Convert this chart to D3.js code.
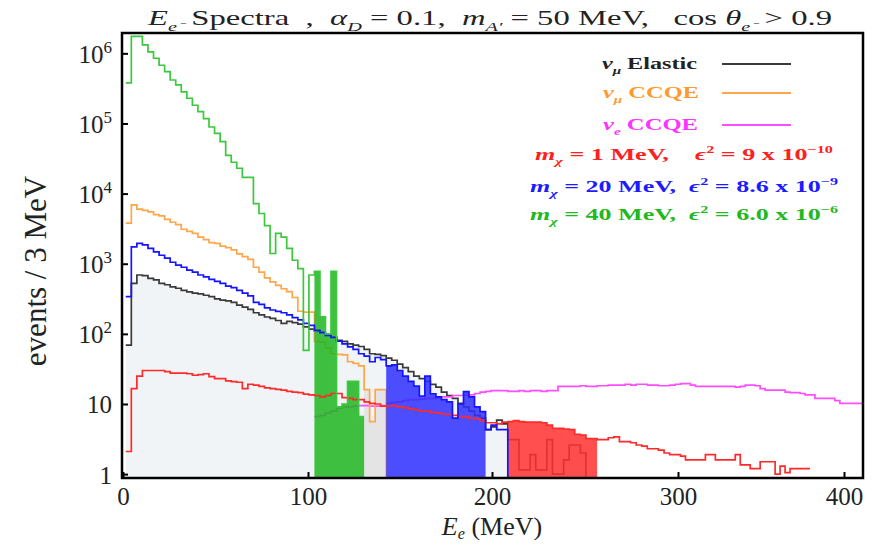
<!DOCTYPE html>
<html>
<head>
<meta charset="utf-8">
<script src="https://cdn.jsdelivr.net/npm/d3@7"></script>
<style>
  body { margin: 0; background: #fff; }
  text { font-family: "Liberation Serif", "Times New Roman", serif; }
</style>
</head>
<body>
<svg id="chart" width="886" height="546"></svg>
<script>
// histogram binning (MeV)
const binWidth = 3;
const firstEdge = 1.5;
const ccqeEStart = 103.5;

// events / 3 MeV, one value per bin
const elastic = [69, 525, 690, 676, 617, 589, 525, 501, 468, 447,
  417, 398, 380, 372, 355, 339, 316, 302, 295, 282,
  257, 240, 224, 200, 186, 174, 166, 155, 141,
  151, 145, 138, 126, 117, 110, 102, 95, 89, 81,
  78, 72, 69, 66, 60, 52, 51, 49, 45, 42,
  37, 33, 29, 25, 23, 21, 19, 17.4, 14.8, 13.2,
  12, 10.2, 9.1, 7.9, 6.9, 6.3, 4.3, 4.7, 5.9, 5.2,
  3.1, 3.1, 1.15, 1.15, 1.9, 1.15, 1.15, 3.1, 1.0,
  1.0, 1.6, 2.6, 2.6, 2.0];
const ccqeMu = [3800, 6900, 6000, 5750, 5500, 5000, 4800, 4300, 3900, 3600,
  3100, 2900, 2700, 2400, 2200, 2000, 1950, 1780, 1700, 1580,
  1380, 1260, 1150, 890, 760, 630, 550, 490, 440,
  400, 330, 210, 204, 204, 78, 76, 63, 52, 51,
  50, 40, 38, 35, 16, 5.6, 16, 16];
const ccqeE = [6.6, 6.9, 7.4, 7.9, 8.7, 9.1, 9.1, 9.3, 9.5, 9.5,
  9.3, 9.3, 9.5, 10.2, 10.5, 10.7, 11.2, 11.5, 11.5, 11.7,
  12.0, 12.0, 12.3, 12.6, 12.6, 13.2, 13.2, 13.5, 13.5, 14.1,
  14.8, 15.1, 15.5, 15.5, 15.5, 15.1, 15.1, 15.5, 15.1, 15.5,
  15.5, 15.1, 15.5, 15.5, 17.8, 17.8, 17.8, 17.8, 18.2,
  17.8, 17.8, 18.2, 18.2, 18.6, 18.6, 18.6, 19.1, 18.6, 19.1,
  19.1, 18.6, 18.6, 18.2, 18.2, 18.6, 19.1, 19.5, 19.5, 18.6,
  17.8, 17.8, 17.8, 17.8, 17.8, 17.8, 17.8, 17.8, 17.4, 17.8, 18.6,
  18.6, 18.2, 16.6, 15.8, 15.8, 15.8, 15.8, 14.8, 14.5, 14.5, 14.1,
  13.5, 13.5, 12.0, 12.0, 12.0, 12.0, 11.2, 10.2, 10.2, 10.2, 10.2, 10.2];
const chi1 = [2.1, 16.6, 25, 30, 30, 30, 30, 29, 27.5, 27.5,
  27.5, 27, 25.7, 26.3, 27, 24.5, 23, 23, 21.4, 20.9,
  20.4, 16.6, 19.1, 18.6, 17.8, 17, 16.6, 16.2, 15.8,
  15.1, 14.8, 14.5, 13.8, 13.5, 13.2, 12.6, 13.2, 14.1, 14.1,
  12.3, 12.0, 11.5, 11.5, 10.7, 10.2, 10, 9.3, 9.3, 9.5,
  9.1, 8.9, 8.5, 8.3, 7.9, 7.9, 7.6, 7.4, 7.2, 7.1,
  6.9, 6.6, 6.6, 6.3, 6.2, 5.8, 5.4, 5.4, 5.2, 5.5,
  5.6, 5.8, 5.6, 5.5, 5.5, 5.5, 5.4, 5.0, 4.5,
  4.5, 4.4, 4.3, 3.7, 3.6, 3.2, 3.2, 3.1, 3.1, 3.3,
  3.4, 2.9, 2.9, 2.8, 2.6, 2.5, 2.3, 2.3, 2.2, 2.0,
  1.9, 1.9, 1.8, 1.6, 1.6, 1.6, 1.6, 1.9, 1.9, 1.6, 1.6,
  1.6, 1.6, 1.9, 1.35, 1.35, 1.2, 1.2, 1.5, 1.5, 1.5, 1.0,
  1.3, 1.05, 1.2, 1.2, 1.2, 1.2];
const chi20 = [340, 1740, 1950, 1860, 1660, 1480, 1320, 1200, 1050, 955,
  890, 810, 760, 690, 650, 600, 560, 525, 480, 457,
  417, 380, 347, 282, 263, 234, 219, 209, 200,
  186, 170, 158, 141, 132, 112, 105, 95, 89, 79,
  72, 65, 60, 52, 48, 40, 46, 43, 35, 36,
  30, 25, 21, 18, 13, 25, 14, 12.6, 11.5, 10.7,
  6.3, 10, 15, 12.6, 9.1, 7.8, 4.3, 5.0, 4.3, 4.3];
const chi40 = [380000, 1740000, 1740000, 1320000, 1050000, 851000, 676000, 550000, 417000, 355000,
  282000, 229000, 182000, 148000, 117000, 89000, 72000, 55000, 35000, 28000,
  23000, 17000, 17000, 7200, 5200, 3500, 1400, 2700, 2400,
  1660, 1120, 850, 58, 690, 780, 175, 100, 780, 9.1,
  10, 21, 21, 6.6];

// energy windows that are shaded (MeV)
const chi40Window = [103.5, 130.5];
const ccqeMuWindow = [130.5, 142.5];
const chi20Window = [142.5, 196.5];
const chi1Window = [208.5, 256.5];

const xTicks = [0, 100, 200, 300, 400];
const yTicks = [1, 10, 100, 1e3, 1e4, 1e5, 1e6];

const width = 886, height = 546;
const leftBorder = 122, rightBorder = 23, topBorder = 33, botBorder = 68;

const svg = d3.select("#chart");
// the picture's energy axis is not evenly spaced: piecewise scale through the tick positions
const x = d3.scaleLinear().domain(xTicks).range([123, 308, 492, 678, 844]);
const y = d3.scaleLog().domain([0.88, 1.95e6]).range([height - botBorder, topBorder]);
const yBase = y.range()[0];

function stepPoints(values, start, dropEnd) {
  const pts = values.map((v, i) => [start + i * binWidth, v]);
  pts.push([start + values.length * binWidth, values[values.length - 1]]);
  if (dropEnd) pts.push([start + values.length * binWidth, y.domain()[0]]);
  return pts;
}
function windowPoints(values, start, win) {
  const pts = [];
  values.forEach((v, i) => {
    const e = start + i * binWidth;
    if (e >= win[0] - 1e-6 && e + binWidth <= win[1] + 1e-6) pts.push([e, v]);
  });
  pts.push([win[1], pts[pts.length - 1][1]]);
  return pts;
}

const line = d3.line().x(d => x(d[0])).y(d => y(d[1])).curve(d3.curveStepAfter);
const area = d3.area().x(d => x(d[0])).y0(yBase).y1(d => y(d[1])).curve(d3.curveStepAfter);

svg.append("defs").append("clipPath").attr("id", "plotClip")
  .append("rect").attr("x", leftBorder).attr("y", topBorder)
  .attr("width", width - leftBorder - rightBorder).attr("height", height - topBorder - botBorder);

const plot = svg.append("g").attr("clip-path", "url(#plotClip)");

// background shading
plot.append("path").attr("d", area(stepPoints(elastic, firstEdge))).attr("fill", "#f0f4f7");
plot.append("path").attr("d", area(windowPoints(ccqeMu, firstEdge, ccqeMuWindow))).attr("fill", "#e4e4e4");

function drawLine(values, start, color, dropEnd) {
  plot.append("path").attr("d", line(stepPoints(values, start, dropEnd)))
    .attr("fill", "none").attr("stroke", color).attr("stroke-width", 1.7);
}
drawLine(elastic, firstEdge, "#3a3a3a", true);
drawLine(ccqeE, ccqeEStart, "#ff4dff", false);
drawLine(ccqeMu, firstEdge, "#ffa54a", true);

// signal windows
plot.append("path").attr("d", area(windowPoints(chi40, firstEdge, chi40Window))).attr("fill", "#1fb51f").attr("opacity", 0.85);
plot.append("path").attr("d", area(windowPoints(chi20, firstEdge, chi20Window))).attr("fill", "#2f2fff").attr("opacity", 0.85);
plot.append("path").attr("d", area(windowPoints(chi1, firstEdge, chi1Window))).attr("fill", "#ff3030").attr("opacity", 0.85);

drawLine(chi1, firstEdge, "#ff2a2a", false);
drawLine(chi20, firstEdge, "#1414ff", true);
drawLine(chi40, firstEdge, "#3cc83c", false);

// axes
const xAxis = svg.append("g").attr("transform", "translate(0," + yBase + ")")
  .call(d3.axisBottom(x).tickValues(xTicks).tickSize(-6).tickPadding(9));
xAxis.select(".domain").remove();
xAxis.selectAll(".tick line").attr("stroke", "#000").attr("stroke-width", 2);
xAxis.selectAll(".tick text").attr("font-size", 25).attr("fill", "#222")
  .style("font-family", "Liberation Serif");

const yAxis = svg.append("g").attr("transform", "translate(" + leftBorder + ",0)")
  .call(d3.axisLeft(y).tickValues(yTicks).tickSize(-6).tickPadding(10).tickFormat(""));
yAxis.select(".domain").remove();
yAxis.selectAll(".tick line").attr("stroke", "#000").attr("stroke-width", 2);
yAxis.selectAll(".tick text")
  .attr("font-size", 25).attr("fill", "#222").attr("dy", "0.36em")
  .style("font-family", "Liberation Serif")
  .each(function (d) {
    const t = d3.select(this);
    const n = Math.round(Math.log10(d));
    if (n === 0) { t.text("1"); return; }
    t.append("tspan").text("10");
    if (n > 1) t.append("tspan").attr("font-size", 17).attr("dy", -10).text(n);
  });

svg.append("rect").attr("x", leftBorder).attr("y", topBorder)
  .attr("width", width - leftBorder - rightBorder).attr("height", height - topBorder - botBorder)
  .attr("fill", "none").attr("stroke", "#000").attr("stroke-width", 2.5);

// rich text helper: parts with sub/sup/italic
function rich(sel, parts, base, subShift) {
  let shift = 0;
  parts.forEach(p => {
    const ts = sel.append("tspan").text(p.t);
    const target = p.sub ? base * (subShift || 0.3) : p.sup ? -base * 0.42 : 0;
    if (target !== shift) { ts.attr("dy", target - shift); shift = target; }
    if (p.sub || p.sup) ts.attr("font-size", base * 0.62);
    if (p.i) ts.attr("font-style", "italic");
  });
  return sel;
}

// title
const title = svg.append("text").attr("x", 490).attr("y", 25).attr("text-anchor", "middle")
  .attr("font-size", 21).attr("fill", "#222").style("white-space", "pre");
rich(title, [
  { t: "E", i: true }, { t: "e⁻", sub: true, i: true }, { t: " Spectra  ,  " },
  { t: "α", i: true }, { t: "D", sub: true, i: true }, { t: " = 0.1,  " },
  { t: "m", i: true }, { t: "A′", sub: true, i: true }, { t: " = 50 MeV,   cos " },
  { t: "θ", i: true }, { t: "e⁻", sub: true, i: true }, { t: " > 0.9" }
], 21);
title.attr("textLength", 684).attr("lengthAdjust", "spacingAndGlyphs");

// axis labels
const xLabel = svg.append("text").attr("x", 492).attr("y", 535).attr("text-anchor", "middle")
  .attr("font-size", 26).attr("fill", "#222").style("white-space", "pre");
rich(xLabel, [{ t: "E", i: true }, { t: "e", sub: true, i: true }, { t: " (MeV)" }], 26, 0.15);

svg.append("text").attr("transform", "translate(46,271) rotate(-90)").attr("text-anchor", "middle")
  .attr("font-size", 31).attr("fill", "#222").text("events / 3 MeV");

// legend
const legendRows = [
  { parts: [{ t: "ν", i: true }, { t: "μ", sub: true, i: true }, { t: " Elastic" }], color: "#222", x: 697, y: 69, w: 95, line: "#3a3a3a" },
  { parts: [{ t: "ν", i: true }, { t: "μ", sub: true, i: true }, { t: " CCQE" }], color: "#ff9a33", x: 699, y: 98, w: 96, line: "#ffa54a" },
  { parts: [{ t: "ν", i: true }, { t: "e", sub: true, i: true }, { t: " CCQE" }], color: "#ff33ff", x: 698, y: 130, w: 95, line: "#ff4dff" },
  { parts: [{ t: "m", i: true }, { t: "χ", sub: true, i: true }, { t: " = 1 MeV,    " }, { t: "ϵ", i: true }, { t: "2", sup: true }, { t: " = 9 x 10" }, { t: "−10", sup: true }], color: "#ff2020", x: 833, y: 160, w: 298 },
  { parts: [{ t: "m", i: true }, { t: "χ", sub: true, i: true }, { t: " = 20 MeV,  " }, { t: "ϵ", i: true }, { t: "2", sup: true }, { t: " = 8.6 x 10" }, { t: "−9", sup: true }], color: "#1c1cff", x: 838, y: 192, w: 308 },
  { parts: [{ t: "m", i: true }, { t: "χ", sub: true, i: true }, { t: " = 40 MeV,  " }, { t: "ϵ", i: true }, { t: "2", sup: true }, { t: " = 6.0 x 10" }, { t: "−6", sup: true }], color: "#22b822", x: 838, y: 220, w: 308 }
];
legendRows.forEach(r => {
  const t = svg.append("text").attr("x", r.x).attr("y", r.y).attr("text-anchor", "end")
    .attr("font-size", 16).attr("font-weight", "bold").attr("fill", r.color).style("white-space", "pre");
  rich(t, r.parts, 16);
  t.attr("textLength", r.w).attr("lengthAdjust", "spacingAndGlyphs");
  if (r.line) {
    svg.append("line").attr("x1", 722).attr("x2", 791).attr("y1", r.y - 5).attr("y2", r.y - 5)
      .attr("stroke", r.line).attr("stroke-width", 2);
  }
});
</script>
</body>
</html>
